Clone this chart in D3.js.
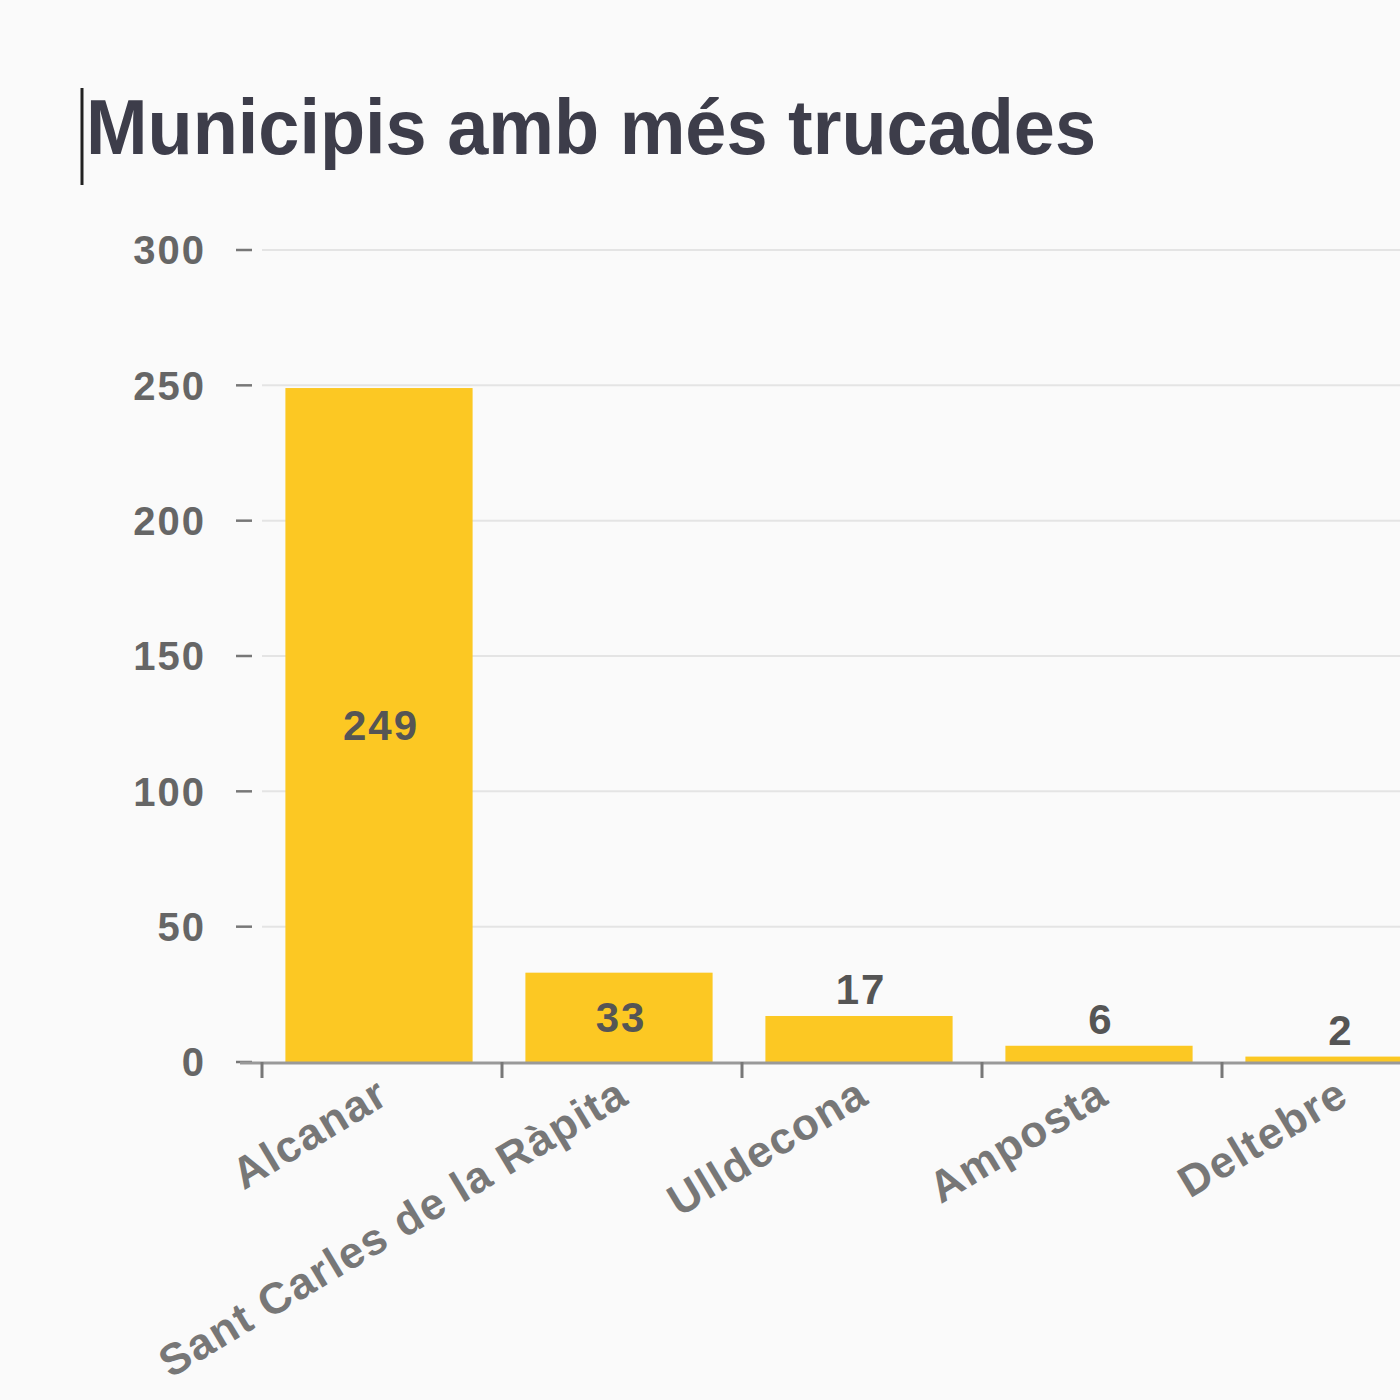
<!DOCTYPE html>
<meta charset="utf-8">
<style>
  html, body { margin: 0; padding: 0; background: #fafafa; overflow: hidden; }
  body { font-family: "Liberation Sans", Arial, sans-serif; }
  .tick-y text { font-size: 40px; font-weight: bold; fill: #666; letter-spacing: 2px; }
  .xlab { font-size: 44px; font-weight: bold; fill: #777; letter-spacing: 1.5px; }
  .val { font-size: 42px; font-weight: bold; fill: #555; text-anchor: middle; letter-spacing: 2px; }
</style>
<body>
<script src="https://d3js.org/d3.v7.min.js"></script>
<script>
  var municipis = ["Alcanar", "Sant Carles de la Ràpita", "Ulldecona", "Amposta", "Deltebre", "Tortosa"];
  var trucades = [249, 33, 17, 6, 2, 1];
  var yTicks = [0, 50, 100, 150, 200, 250, 300];

  var width = 1400, height = 1400;
  var data = municipis.map(function(m, i) { return { name: m, value: trucades[i] }; });

  var svg = d3.select("body").append("svg")
    .attr("width", width)
    .attr("height", height);

  // title + the little caret line before it
  svg.append("line")
    .attr("x1", 82).attr("x2", 82).attr("y1", 88).attr("y2", 185)
    .attr("stroke", "#222").attr("stroke-width", 3);
  svg.append("text")
    .attr("x", 86).attr("y", 154)
    .attr("textLength", 1010).attr("lengthAdjust", "spacingAndGlyphs")
    .style("font-size", "78px").style("font-weight", "bold").style("fill", "#3d3d4a")
    .text("Municipis amb més trucades");

  var y = d3.scaleLinear().domain([0, 300]).range([1062, 250]);
  var x = d3.scaleBand().domain(municipis)
    .range([259, 259 + 240 * municipis.length])
    .paddingInner(0.22).paddingOuter(0.11);

  // gridlines
  svg.selectAll(".grid").data(yTicks.filter(function(d) { return d > 0; }))
    .join("line")
    .attr("class", "grid")
    .attr("x1", 262).attr("x2", width)
    .attr("y1", function(d) { return y(d); }).attr("y2", function(d) { return y(d); })
    .attr("stroke", "#e4e4e4").attr("stroke-width", 2);

  // y axis ticks
  var yt = svg.selectAll(".tick-y").data(yTicks).join("g")
    .attr("class", "tick-y")
    .attr("transform", function(d) { return "translate(0," + y(d) + ")"; });
  yt.append("line").attr("x1", 236).attr("x2", 252).attr("stroke", "#777").attr("stroke-width", 2.5);
  yt.append("text").attr("x", 206).attr("dy", "0.36em").attr("text-anchor", "end")
    .text(function(d) { return d; });

  // bars
  svg.selectAll(".bar").data(data).join("rect")
    .attr("class", "bar")
    .attr("x", function(d) { return x(d.name); })
    .attr("width", x.bandwidth())
    .attr("y", function(d) { return y(d.value); })
    .attr("height", function(d) { return y(0) - y(d.value); })
    .attr("fill", "#fcc823");

  // x axis baseline + ticks between bands
  svg.append("line")
    .attr("x1", 240).attr("x2", width).attr("y1", y(0) + 1).attr("y2", y(0) + 1)
    .attr("stroke", "#999").attr("stroke-width", 3);
  var step = x.step();
  svg.selectAll(".xt").data(municipis).join("line")
    .attr("class", "xt")
    .attr("x1", function(d) { return x(d) - step * 0.11 + 3; })
    .attr("x2", function(d) { return x(d) - step * 0.11 + 3; })
    .attr("y1", y(0)).attr("y2", y(0) + 16)
    .attr("stroke", "#777").attr("stroke-width", 3);

  // value labels
  svg.selectAll(".val").data(data).join("text")
    .attr("class", "val")
    .attr("x", function(d) { return x(d.name) + x.bandwidth() / 2 + 2; })
    .attr("y", function(d) {
      var h = y(0) - y(d.value);
      return h > 60 ? y(d.value / 2) + 15 : y(d.value) - 12;
    })
    .text(function(d) { return d.value; });

  // category labels
  svg.selectAll(".xlab").data(data).join("text")
    .attr("class", "xlab")
    .attr("text-anchor", "end")
    .attr("transform", function(d) {
      return "translate(" + (x(d.name) + x.bandwidth() / 2 + 12) + "," + (y(0) + 40) + ") rotate(-31)";
    })
    .text(function(d) { return d.name; });
</script>
</body>
